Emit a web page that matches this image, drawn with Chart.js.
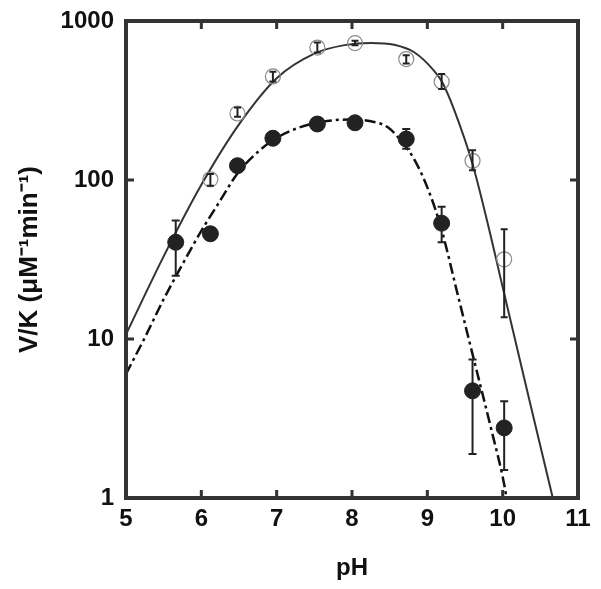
<!DOCTYPE html>
<html>
<head>
<meta charset="utf-8">
<script src="https://cdn.jsdelivr.net/npm/chart.js@4"></script>
<style>
  html, body { margin: 0; padding: 0; background: #ffffff; }
  #wrap { width: 601px; height: 589px; }
</style>
</head>
<body>
<div id="wrap"><canvas id="c" width="601" height="589"></canvas></div>
<script>
// ---- data ----
const pH = [5.66, 6.12, 6.48, 6.95, 7.54, 8.04, 8.72, 9.19, 9.60, 10.02];
const vkOpen     = [null, 101, 262, 448, 681, 726, 576, 415, 132, 31.7];
const vkOpenHi   = [null, 109, 286, 479, 732, 750, 610, 464, 154, 49];
const vkOpenLo   = [null,  92, 250, 417, 634, 705, 541, 373, 115, 13.7];
const vkFilled   = [40.6, 45.9, 123, 183, 225, 229, 181, 53.5, 4.72, 2.76];
const vkFilledHi = [55.6, null, null, null, null, null, 209, 68, 7.43, 4.06];
const vkFilledLo = [25,   null, null, null, null, null, 157, 40.6, 1.89, 1.5];

// fitted curves
const fitSolidPH  = [5.0, 5.5, 6.0, 6.5, 7.0, 7.5, 7.9, 8.25, 8.56, 8.83, 9.09, 9.20, 9.36, 9.60, 9.80, 10.02, 10.37, 10.75];
const fitSolidVK  = [10.7, 33.1, 93.3, 224, 437, 624, 705, 728, 708, 634, 486, 410, 273, 126, 53.7, 19.3, 3.85, 0.68];
const fitDashPH   = [5.0, 5.25, 5.5, 5.75, 6.0, 6.25, 6.48, 6.75, 7.0, 7.3, 7.6, 7.95, 8.25, 8.48, 8.66, 8.81, 9.0, 9.18, 9.40, 9.62, 9.84, 10.03, 10.05];
const fitDashVK   = [6.03, 10.2, 17.8, 29.5, 47.9, 74.1, 110, 150, 184, 214, 232, 240, 234, 214, 174, 139, 89.9, 50.5, 19.3, 7.35, 2.81, 1.15, 1.0];

const xTicks = [5, 6, 7, 8, 9, 10, 11];
const yTicks = [1, 10, 100, 1000];

function pts(xs, ys) {
  const out = [];
  for (let i = 0; i < xs.length; i++) if (ys[i] !== null) out.push({x: xs[i], y: ys[i]});
  return out;
}

const FONT = '"Liberation Sans", Arial, Helvetica, sans-serif';
const INK = '#333333';

const errorBars = {
  id: 'errorBars',
  afterDatasetsDraw(chart) {
    const ctx = chart.ctx;
    const xs = chart.scales.x, ys = chart.scales.y;
    const a = chart.chartArea;
    ctx.save();
    ctx.beginPath();
    ctx.rect(a.left, a.top, a.right - a.left, a.bottom - a.top);
    ctx.clip();
    ctx.strokeStyle = '#222222';
    ctx.lineWidth = 2;
    const sets = [[vkOpenHi, vkOpenLo, 3.5], [vkFilledHi, vkFilledLo, 4]];
    sets.forEach(([hi, lo, cap]) => {
      for (let i = 0; i < pH.length; i++) {
        if (hi[i] === null || lo[i] === null) continue;
        const px = xs.getPixelForValue(pH[i]);
        const yh = ys.getPixelForValue(hi[i]);
        const yl = ys.getPixelForValue(lo[i]);
        ctx.beginPath();
        ctx.moveTo(px, yh); ctx.lineTo(px, yl);
        ctx.moveTo(px - cap, yh); ctx.lineTo(px + cap, yh);
        ctx.moveTo(px - cap, yl); ctx.lineTo(px + cap, yl);
        ctx.stroke();
      }
    });
    ctx.restore();
  },
  afterDraw(chart) {
    const ctx = chart.ctx;
    const a = chart.chartArea;
    const xs = chart.scales.x, ys = chart.scales.y;
    ctx.save();
    ctx.strokeStyle = INK;
    ctx.lineWidth = 3;
    const L = 8;
    xTicks.forEach(v => {
      if (v === xTicks[0] || v === xTicks[xTicks.length - 1]) return;
      const px = xs.getPixelForValue(v);
      ctx.beginPath();
      ctx.moveTo(px, a.bottom); ctx.lineTo(px, a.bottom - L);
      ctx.moveTo(px, a.top); ctx.lineTo(px, a.top + L);
      ctx.stroke();
    });
    yTicks.forEach(v => {
      if (v === yTicks[0] || v === yTicks[yTicks.length - 1]) return;
      const py = ys.getPixelForValue(v);
      ctx.beginPath();
      ctx.moveTo(a.left, py); ctx.lineTo(a.left + L, py);
      ctx.moveTo(a.right, py); ctx.lineTo(a.right - L, py);
      ctx.stroke();
    });
    ctx.lineWidth = 4;
    ctx.strokeRect(a.left, a.top, a.right - a.left, a.bottom - a.top);
    ctx.restore();
  }
};

new Chart(document.getElementById('c'), {
  type: 'scatter',
  data: {
    datasets: [
      {
        label: 'filled',
        data: pts(pH, vkFilled),
        pointRadius: 8,
        pointBackgroundColor: '#222222',
        pointBorderColor: '#222222',
        pointBorderWidth: 1,
        showLine: false,
        order: 0
      },
      {
        label: 'open',
        data: pts(pH, vkOpen),
        pointRadius: 7.5,
        pointBackgroundColor: 'rgba(255,255,255,0)',
        pointBorderColor: '#8a8a8a',
        pointBorderWidth: 1.2,
        showLine: false,
        order: 1
      },
      {
        label: 'fit open',
        data: pts(fitSolidPH, fitSolidVK),
        showLine: true,
        pointRadius: 0,
        borderColor: '#333333',
        borderWidth: 2,
        cubicInterpolationMode: 'monotone',
        order: 2
      },
      {
        label: 'fit filled',
        data: pts(fitDashPH, fitDashVK),
        showLine: true,
        pointRadius: 0,
        borderColor: '#111111',
        borderWidth: 2.5,
        borderDash: [11, 4, 3, 4],
        cubicInterpolationMode: 'monotone',
        order: 3
      }
    ]
  },
  options: {
    responsive: false,
    animation: false,
    events: [],
    layout: { padding: { left: 0, right: 23, top: 21, bottom: 0 } },
    plugins: { legend: { display: false }, tooltip: { enabled: false } },
    scales: {
      x: {
        type: 'linear',
        min: 5, max: 11,
        afterBuildTicks: s => { s.ticks = xTicks.map(v => ({value: v})); },
        afterFit: s => { s.height = 91; s.paddingLeft = 0; s.paddingRight = 0; },
        grid: { display: false, drawTicks: false },
        border: { display: false },
        ticks: { color: '#111', padding: 7, font: { family: FONT, size: 24, weight: 'bold' }, maxRotation: 0 },
        title: { display: true, text: 'pH', color: '#111', padding: { top: 6, bottom: 6 }, font: { family: FONT, size: 24, weight: 'bold' } }
      },
      y: {
        type: 'logarithmic',
        min: 1, max: 1000,
        afterBuildTicks: s => { s.ticks = yTicks.map(v => ({value: v})); },
        afterFit: s => { s.width = 126; s.paddingTop = 0; s.paddingBottom = 0; },
        grid: { display: false, drawTicks: false },
        border: { display: false },
        ticks: { color: '#111', padding: 12, font: { family: FONT, size: 24, weight: 'bold' },
                 callback: v => String(v) },
        title: { display: true, text: 'V/K (μM⁻¹min⁻¹)', color: '#111', padding: { top: 14, bottom: 4 }, font: { family: FONT, size: 26, weight: 'bold' } }
      }
    }
  },
  plugins: [errorBars]
});
</script>
</body>
</html>
